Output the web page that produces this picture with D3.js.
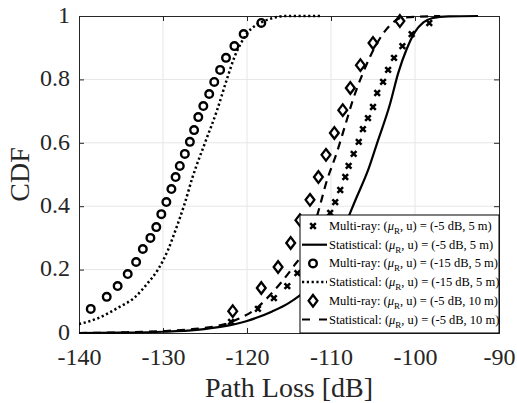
<!DOCTYPE html>
<html><head><meta charset="utf-8">
<script src="https://cdn.jsdelivr.net/npm/d3@7"></script>
<style>body{margin:0;background:#fff}svg{display:block}text{font-family:"Liberation Serif","Times New Roman",serif}</style>
</head><body><svg id="c" width="517" height="403"></svg>
<script>
// ---- data ----
const xTicks = [-140, -130, -120, -110, -100, -90];
const yTicks = [0, 0.2, 0.4, 0.6, 0.8, 1];
const yTickLabels = ["0", "0.2", "0.4", "0.6", "0.8", "1"];

// Multi-ray (-5 dB, 5 m) : crosses
const mr5x = [-121.9,-118.7,-116.8,-115.2,-114.0,-113.1,-112.3,-111.6,-110.8,-110.1,-109.5,-108.9,-108.3,-107.9,-107.3,-106.7,-106.2,-105.6,-105.0,-104.5,-103.8,-103.2,-102.5,-101.5,-100.4,-98.3];
const mr5y = [0.035,0.076,0.110,0.148,0.189,0.227,0.265,0.303,0.341,0.379,0.413,0.451,0.492,0.527,0.565,0.603,0.643,0.678,0.713,0.757,0.792,0.830,0.868,0.905,0.943,0.978];
// Statistical (-5 dB, 5 m) : solid
const st5x = [-140,-135,-130,-126,-123,-120,-117,-115,-113,-111,-109,-107,-105.5,-104.5,-103,-102,-101,-100,-99,-98,-96,-92.5];
const st5y = [0.0,0.001,0.004,0.010,0.020,0.038,0.068,0.095,0.135,0.20,0.30,0.425,0.52,0.60,0.72,0.82,0.895,0.95,0.98,0.993,0.999,1.0];
// Multi-ray (-15 dB, 5 m) : circles
const mr15x = [-138.6,-136.7,-135.4,-134.2,-133.2,-132.4,-131.5,-130.8,-130.2,-129.6,-129.0,-128.5,-128.0,-127.4,-126.8,-126.3,-125.8,-125.2,-124.5,-123.9,-123.2,-122.5,-121.5,-120.4,-118.3];
const mr15y = [0.076,0.114,0.148,0.186,0.224,0.265,0.300,0.334,0.375,0.413,0.454,0.492,0.527,0.565,0.603,0.640,0.681,0.716,0.754,0.792,0.830,0.868,0.905,0.943,0.978];
// Statistical (-15 dB, 5 m) : dotted
const st15x = [-140,-137.7,-135.4,-133.3,-131.8,-130.6,-129.4,-128.5,-127.4,-126.5,-125,-123.6,-122.4,-121.5,-120.8,-120,-119,-118.3,-117,-115.5,-111.3];
const st15y = [0.028,0.047,0.079,0.114,0.158,0.20,0.262,0.325,0.41,0.49,0.60,0.70,0.80,0.87,0.91,0.945,0.97,0.98,0.993,1.0,1.0];
// Multi-ray (-5 dB, 10 m) : diamonds
const mr10x = [-121.7,-118.3,-116.3,-114.8,-113.7,-112.5,-111.5,-110.6,-109.6,-108.6,-107.7,-106.5,-105.0,-101.8];
const mr10y = [0.069,0.142,0.208,0.284,0.356,0.420,0.492,0.562,0.631,0.703,0.773,0.845,0.915,0.984];
// Statistical (-5 dB, 10 m) : dashed
const st10x = [-140,-135,-130,-126.5,-124,-122.6,-121,-119,-117.6,-115.7,-114.6,-113,-111.7,-110.5,-109.3,-108.3,-107.4,-106.2,-104.5,-103,-101.5,-97];
const st10y = [0.0,0.002,0.006,0.012,0.020,0.028,0.045,0.075,0.11,0.167,0.205,0.27,0.366,0.48,0.57,0.656,0.735,0.82,0.915,0.97,0.995,1.0];

const legendLabels = [
  {kind:"Multi-ray", val:"(-5 dB, 5 m)", mark:"cross"},
  {kind:"Statistical", val:"(-5 dB, 5 m)", line:"solid"},
  {kind:"Multi-ray", val:"(-15 dB, 5 m)", mark:"circle"},
  {kind:"Statistical", val:"(-15 dB, 5 m)", line:"dotted"},
  {kind:"Multi-ray", val:"(-5 dB, 10 m)", mark:"diamond"},
  {kind:"Statistical", val:"(-5 dB, 10 m)", line:"dashed"}
];

// ---- drawing ----
const svg = d3.select("#c");
const L = 79, R = 499, T = 16, B = 333;
const x = d3.scaleLinear().domain([-140, -90]).range([L, R]);
const y = d3.scaleLinear().domain([0, 1]).range([B, T]);
const axisCol = "#262626";

// grid
const g = svg.append("g");
g.selectAll(".gx").data(xTicks.slice(1, -1)).enter().append("line")
  .attr("x1", d => x(d)).attr("x2", d => x(d)).attr("y1", T).attr("y2", B)
  .attr("stroke", "#e6e6e6").attr("stroke-width", 1);
g.selectAll(".gy").data(yTicks.slice(1, -1)).enter().append("line")
  .attr("y1", d => y(d)).attr("y2", d => y(d)).attr("x1", L).attr("x2", R)
  .attr("stroke", "#e6e6e6").attr("stroke-width", 1);

// axes with inward ticks
const fmtY = d => yTickLabels[yTicks.indexOf(d)];
const axB = svg.append("g").attr("transform", `translate(0,${B})`)
  .call(d3.axisBottom(x).tickValues(xTicks).tickSize(-5).tickPadding(15).tickFormat(d3.format("d")));
const axT = svg.append("g").attr("transform", `translate(0,${T})`)
  .call(d3.axisTop(x).tickValues(xTicks).tickSize(-5).tickFormat(""));
const axL = svg.append("g").attr("transform", `translate(${L},0)`)
  .call(d3.axisLeft(y).tickValues(yTicks).tickSize(-5).tickPadding(9).tickFormat(fmtY));
const axR = svg.append("g").attr("transform", `translate(${R},0)`)
  .call(d3.axisRight(y).tickValues(yTicks).tickSize(-5).tickFormat(""));
[axB, axT, axL, axR].forEach(a => {
  a.selectAll("path").attr("stroke", axisCol).attr("stroke-width", 1);
  a.selectAll("line").attr("stroke", axisCol).attr("stroke-width", 1);
  a.selectAll("text").attr("fill", axisCol).style("font-family", '"Liberation Serif", serif').style("font-size", "24px");
});
axB.selectAll("text").text(d => d3.format("d")(d).replace("−", "-"));
axL.selectAll("text").attr("dy", "0.26em");

// lines
const line = (xs, ys) => d3.line().curve(d3.curveMonotoneX)
  .x((d, i) => x(xs[i])).y((d, i) => y(ys[i]))(xs);
svg.append("clipPath").attr("id", "pc").append("rect")
  .attr("x", L).attr("y", T - 3).attr("width", R - L).attr("height", B - T + 6);
const pl = svg.append("g").attr("clip-path", "url(#pc)");
pl.append("path").attr("d", line(st5x, st5y)).attr("fill", "none").attr("stroke", "#000").attr("stroke-width", 2.2);
pl.append("path").attr("d", line(st15x, st15y)).attr("fill", "none").attr("stroke", "#000").attr("stroke-width", 2.5).attr("stroke-dasharray", "2.2,2.6");
pl.append("path").attr("d", line(st10x, st10y)).attr("fill", "none").attr("stroke", "#000").attr("stroke-width", 2.2).attr("stroke-dasharray", "8,6");

// markers
const crossPath = s => `M${-s},${-s}L${s},${s}M${-s},${s}L${s},${-s}`;
const diamondPath = (w, h) => `M0,${-h}L${w},0L0,${h}L${-w},0Z`;
pl.selectAll(".cr").data(mr5x).enter().append("path")
  .attr("transform", (d, i) => `translate(${x(d)},${y(mr5y[i])})`)
  .attr("d", crossPath(2.8)).attr("stroke", "#000").attr("stroke-width", 2.5).attr("fill", "none");
pl.selectAll(".ci").data(mr15x).enter().append("circle")
  .attr("cx", d => x(d)).attr("cy", (d, i) => y(mr15y[i])).attr("r", 3.8)
  .attr("stroke", "#000").attr("stroke-width", 2.4).attr("fill", "none");
pl.selectAll(".di").data(mr10x).enter().append("path")
  .attr("transform", (d, i) => `translate(${x(d)},${y(mr10y[i])})`)
  .attr("d", diamondPath(4.4, 5.8)).attr("stroke", "#000").attr("stroke-width", 2.3).attr("fill", "none");

// legend
const lg = svg.append("g");
const lx = 300, ly = 215, lw = 199, lh = 118;
lg.append("rect").attr("x", lx).attr("y", ly).attr("width", lw).attr("height", lh)
  .attr("fill", "#fff").attr("stroke", "#000").attr("stroke-width", 1);
const rowY = i => ly + 11 + i * 18.7;
legendLabels.forEach((e, i) => {
  const cy = rowY(i);
  if (e.mark === "cross") lg.append("path").attr("transform", `translate(313,${cy})`).attr("d", crossPath(2.8)).attr("stroke", "#000").attr("stroke-width", 2.5);
  if (e.mark === "circle") lg.append("circle").attr("cx", 313).attr("cy", cy).attr("r", 3.8).attr("stroke", "#000").attr("stroke-width", 2.4).attr("fill", "none");
  if (e.mark === "diamond") lg.append("path").attr("transform", `translate(313,${cy})`).attr("d", diamondPath(4.4, 5.8)).attr("stroke", "#000").attr("stroke-width", 2.3).attr("fill", "none");
  if (e.line) {
    const p = lg.append("line").attr("x1", 302).attr("x2", 327).attr("y1", cy).attr("y2", cy).attr("stroke", "#000").attr("stroke-width", 2.2);
    if (e.line === "dotted") p.attr("stroke-dasharray", "2.2,2.6").attr("stroke-width", 2.5);
    if (e.line === "dashed") p.attr("stroke-dasharray", "8,9");
  }
  const t = lg.append("text").attr("x", 329).attr("y", cy + 4).attr("fill", "#000").style("font-size", "12.5px");
  t.append("tspan").text(e.kind + ": (");
  t.append("tspan").style("font-style", "italic").text("μ");
  t.append("tspan").attr("dy", 4).style("font-size", "9px").text("R");
  t.append("tspan").attr("dy", -4).text(", u) = " + e.val);
});

// axis labels
svg.append("text").attr("x", x(-115)).attr("y", 397).attr("text-anchor", "middle")
  .attr("fill", axisCol).style("font-size", "28px").text("Path Loss [dB]");
svg.append("text").attr("transform", `translate(29,${(T + B) / 2}) rotate(-90)`).attr("text-anchor", "middle")
  .attr("fill", axisCol).style("font-size", "28px").text("CDF");
</script></body></html>
